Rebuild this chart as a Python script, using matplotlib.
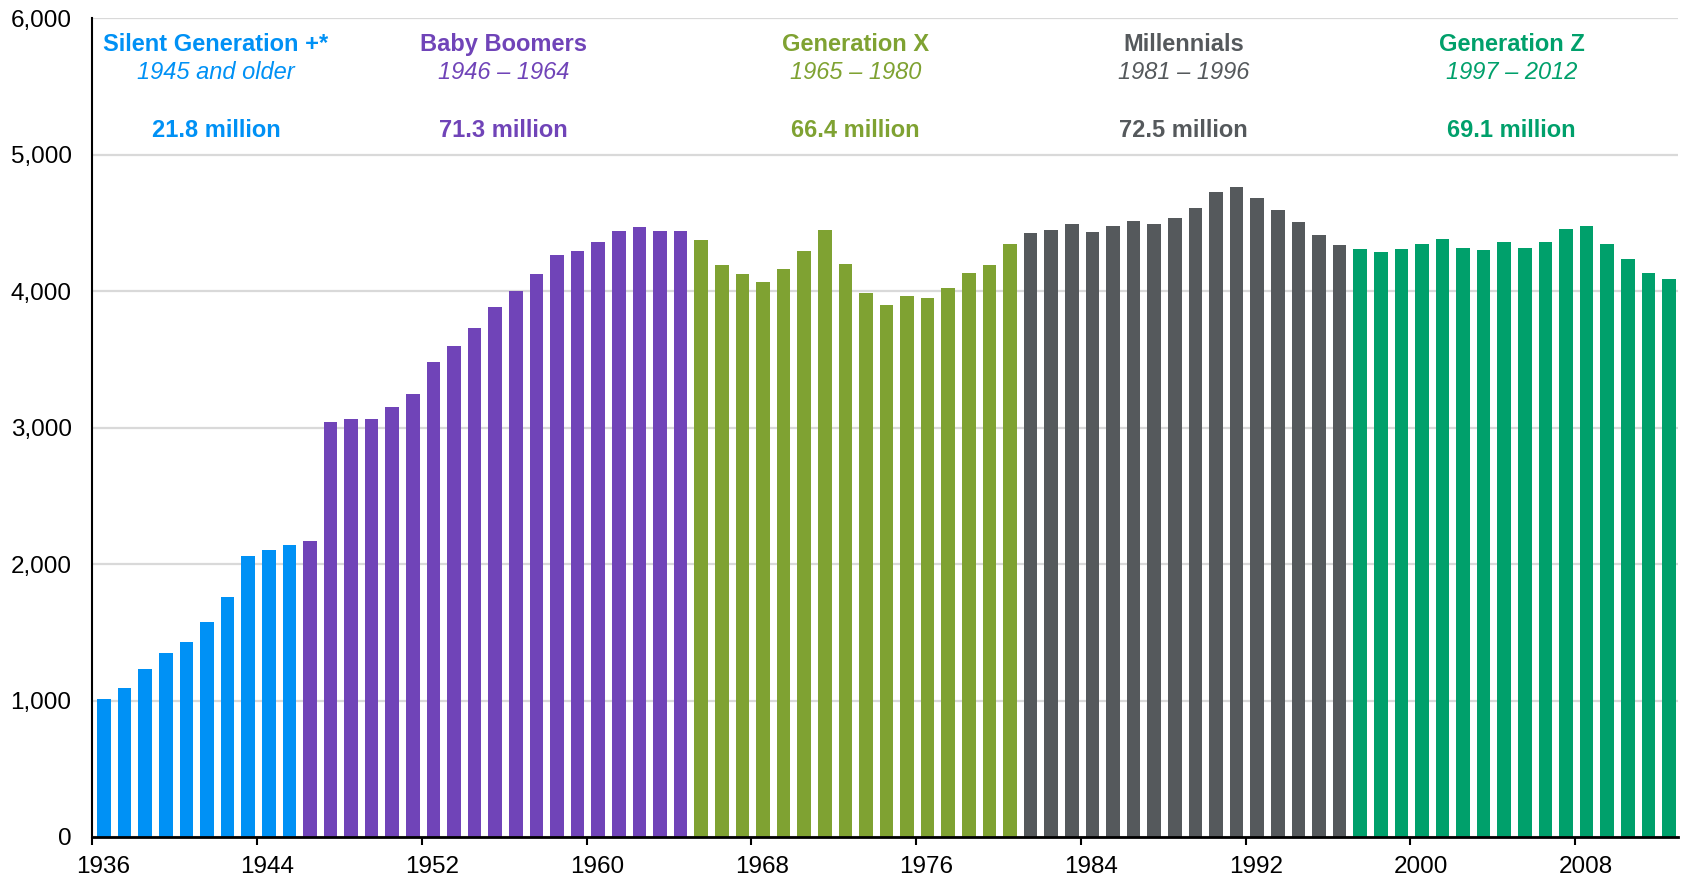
import matplotlib
matplotlib.use("Agg")
import matplotlib.pyplot as plt
import numpy as np

plt.rcParams['font.family'] = ['Liberation Sans', 'DejaVu Sans']

# ---------------- data ----------------
years = list(range(1936, 2013))
births = [
    1010, 1095, 1232, 1345, 1430, 1572, 1758, 2056, 2100, 2139,   # 1936-1945
    2169, 3042, 3064, 3064, 3154, 3244, 3480, 3598, 3732, 3882,   # 1946-1955
    4000, 4127, 4268, 4298, 4363, 4444, 4473, 4444, 4444,         # 1956-1964
    4377, 4195, 4124, 4071, 4161, 4292, 4445, 4202, 3988, 3898,   # 1965-1974
    3968, 3949, 4024, 4131, 4190, 4348,                           # 1975-1980
    4428, 4450, 4496, 4433, 4477, 4518, 4496, 4538, 4613, 4727,   # 1981-1990
    4762, 4686, 4594, 4504, 4409, 4341,                           # 1991-1996
    4307, 4287, 4311, 4343, 4384, 4319, 4299, 4358, 4319, 4358,   # 1997-2006
    4457, 4479, 4348, 4236, 4134, 4092,                           # 2007-2012
]
gen_names = ["Silent Generation +*", "Baby Boomers", "Generation X", "Millennials", "Generation Z"]
gen_ranges = ["1945 and older", "1946 \u2013 1964", "1965 \u2013 1980", "1981 \u2013 1996", "1997 \u2013 2012"]
gen_totals = ["21.8 million", "71.3 million", "66.4 million", "72.5 million", "69.1 million"]
gen_start = [1936, 1946, 1965, 1981, 1997]
gen_end = [1945, 1964, 1980, 1996, 2012]
gen_colors = ["#0091F5", "#7044B8", "#7FA232", "#55595C", "#00A06B"]

yticks = [0, 1000, 2000, 3000, 4000, 5000, 6000]
xlabel_years = list(range(1936, 2013, 8))

# ---------------- layout ----------------
fig = plt.figure(figsize=(16.87, 8.8), dpi=100)
ax = fig.add_axes([0.0548, 0.0489, 0.9399, 0.9303])

x = np.arange(len(years))
colors = []
for yr in years:
    for s, e, c in zip(gen_start, gen_end, gen_colors):
        if s <= yr <= e:
            colors.append(c)
ax.bar(x + 0.06, births, width=0.66, color=colors, zorder=3)

ax.set_xlim(-0.5, len(years) - 0.5)
ax.set_ylim(0, 6000)

ax.set_yticks(yticks)
ax.set_yticklabels([f"{v:,}" for v in yticks], fontsize=17.5)
ax.tick_params(axis='y', length=0, pad=15)
ax.yaxis.grid(True, color="#D9D9D9", linewidth=1.6, zorder=0)
ax.set_axisbelow(True)

xl_idx = [years.index(y) for y in xlabel_years]
ax.set_xticks(xl_idx)
ax.set_xticklabels([str(y) for y in xlabel_years], fontsize=17.5)
ax.set_xticks([i - 0.5 for i in xl_idx], minor=True)
ax.tick_params(axis='x', which='major', length=0, pad=14)
ax.tick_params(axis='x', which='minor', length=6, width=1.5, color='black')

for side in ['top', 'right']:
    ax.spines[side].set_visible(False)
ax.spines['left'].set_linewidth(1.5)
ax.spines['bottom'].set_linewidth(2)
ax.spines['bottom'].set_zorder(5)

# label x positions (data coords)
label_x = [5.5, 19.46, 36.54, 52.48, 68.41]
for lx, n, r, t, c in zip(label_x, gen_names, gen_ranges, gen_totals, gen_colors):
    ax.text(lx, 5811, n, color=c, fontsize=17, fontweight='bold', ha='center', va='center')
    ax.text(lx, 5606, r, color=c, fontsize=17, fontstyle='italic', ha='center', va='center')
    ax.text(lx, 5175, t, color=c, fontsize=17, fontweight='bold', ha='center', va='center')

fig.savefig("out.png", dpi=100)
